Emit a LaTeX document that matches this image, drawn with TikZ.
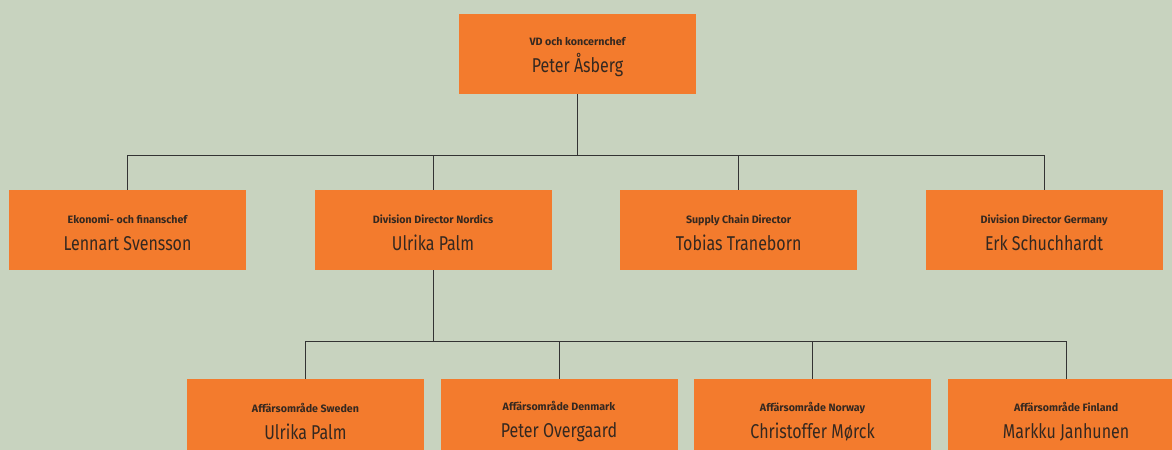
\documentclass[tikz,border=0pt]{standalone}
\usepackage{fontspec}
\setmainfont{Fira Sans}
\newfontfamily\namefont[FakeStretch=0.8]{Fira Sans}
\usetikzlibrary{positioning}
\definecolor{bgcol}{RGB}{200,211,191}
\definecolor{boxcol}{RGB}{243,123,45}
\definecolor{textcol}{RGB}{52,40,32}
\newcommand{\rolle}[1]{{\rmfamily\fontsize{8}{10}\selectfont\bfseries\rule{0pt}{10.5pt}#1}}

\begin{document}
\begin{tikzpicture}[
		x=0.75pt,y=-0.75pt,
		chef/.style={fill=boxcol,minimum width=177.75pt,minimum height=60pt,
			inner sep=0pt,align=center,text=textcol,
			font=\namefont\fontsize{15}{20.25}\selectfont},
		line/.style={draw=black!80,line width=0.6pt}
		]
		\fill[bgcol] (0,0) rectangle (1172,450);
		\useasboundingbox (0,0) rectangle (1172,450);
		% top
		\node[chef] (vd) at (577.5,54)
		{\rolle{VD och koncernchef}\\Peter Åsberg};
		% second row
		\node[chef] (ekonomi) at (127.5,230)
		{\rolle{Ekonomi- och finanschef}\\Lennart Svensson};
		\node[chef,right=51pt of ekonomi] (nordics)
		{\rolle{Division Director Nordics}\\Ulrika Palm};
		\node[chef,right=51pt of nordics] (supply)
		{\rolle{Supply Chain Director}\\Tobias Traneborn};
		\node[chef,right=51pt of supply] (germany)
		{\rolle{Division Director Germany}\\Erk Schuchhardt};
		% third row
		\node[chef] (sweden) at (305.5,419)
		{\rolle{Affärsområde Sweden}\\Ulrika Palm};
		\node[chef,right=12pt of sweden] (denmark)
		{\rolle{Affärsområde Denmark}\\Peter Overgaard};
		\node[chef,right=12pt of denmark] (norway)
		{\rolle{Affärsområde Norway}\\Christoffer Mørck};
		\node[chef,right=12pt of norway] (finland)
		{\rolle{Affärsområde Finland}\\Markku Janhunen};
		% connectors
		\coordinate (bus1) at (0,155);
		\coordinate (bus2) at (0,341);
		\draw[line] (vd.south) -- (vd.south |- bus1);
		\draw[line] (ekonomi.north) |- (bus1 -| germany.north) -- (germany.north);
		\foreach \n in {nordics,supply}
		\draw[line] (\n.north) -- (\n.north |- bus1);
		\draw[line] (nordics.south) -- (nordics.south |- bus2);
		\draw[line] (sweden.north) |- (bus2 -| finland.north) -- (finland.north);
		\foreach \n in {denmark,norway}
		\draw[line] (\n.north) -- (\n.north |- bus2);
	\end{tikzpicture}
\end{document}
